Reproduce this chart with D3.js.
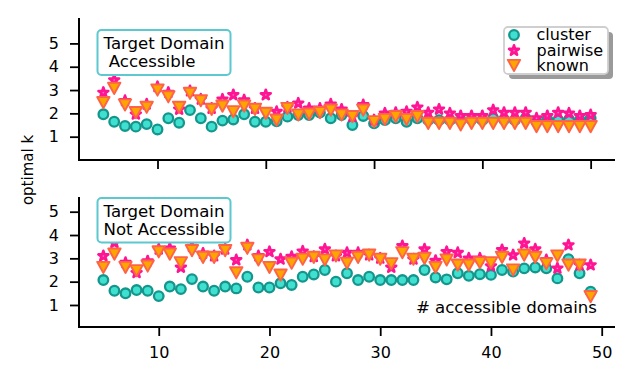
<!DOCTYPE html>
<html>
<head>
<meta charset="utf-8">
<script src="https://cdn.jsdelivr.net/npm/d3@7"></script>
<style>
  body { margin: 0; background: #fff; }
  text { font-family: "DejaVu Sans", sans-serif; }
</style>
</head>
<body>
<svg id="chart" width="634" height="384"></svg>
<script>
// number of accessible domains
var domainsTop = [5,6,7,8,9,10,11,12,13,14,15,16,17,18,19,20,21,22,23,24,25,26,27,28,29,30,31,32,33,34,35,36,37,38,39,40,41,42,43,44,45,46,47,48,49,50]
var domainsBottom = [5,6,7,8,9,10,11,12,13,14,15,16,17,18,19,20,21,22,23,24,25,26,27,28,29,30,31,32,33,34,35,36,37,38,39,40,41,42,43,44,45,46,47,48,49]

// target domain accessible
var clusterTop = [1.96,1.64,1.46,1.43,1.54,1.31,1.79,1.6,2.14,1.79,1.43,1.69,1.74,1.96,1.64,1.64,1.66,1.86,1.93,1.93,2.03,1.79,1.93,1.5,1.89,1.57,1.71,1.79,1.64,1.79,1.71,1.71,1.71,1.71,1.74,1.71,1.79,1.74,1.71,1.79,1.64,1.74,1.71,1.74,1.71,1.79]
var pairwiseTop = [2.89,3.43,2.54,1.96,2.39,3.14,2.89,2.17,2.96,2.6,2.21,2.6,2.79,2.57,2.21,2.79,2.07,2.26,2.43,2.21,2.21,2.39,2.17,1.86,2.36,1.71,2.0,2.03,2.07,2.26,2.03,2.17,2.0,1.89,1.89,1.89,2.14,2.03,2.03,2.03,1.79,1.89,2.03,2.0,1.89,1.93]
var knownTop = [2.46,3.07,2.36,2.03,2.26,3.0,2.71,2.26,2.86,2.54,2.17,2.31,2.07,2.31,2.17,2.0,1.71,2.21,1.93,1.97,2.03,2.14,1.93,1.86,2.14,1.64,1.74,1.86,1.74,1.86,1.57,1.57,1.57,1.5,1.57,1.57,1.57,1.57,1.57,1.57,1.43,1.43,1.43,1.43,1.43,1.43]

// target domain not accessible
var clusterBottom = [2.07,1.61,1.5,1.64,1.61,1.38,1.79,1.68,2.11,1.79,1.61,1.79,1.71,2.21,1.75,1.75,1.93,1.86,2.21,2.31,2.5,2.0,2.36,2.07,2.21,2.07,2.07,2.07,2.07,2.5,2.18,2.1,2.36,2.25,2.32,2.29,2.5,2.43,2.57,2.61,2.57,2.14,2.96,2.36,1.57]
var pairwiseBottom = [3.1,3.67,2.81,2.38,2.88,3.39,3.43,2.61,3.5,3.21,3.1,3.39,2.93,3.57,3.1,3.28,2.96,3.07,3.3,3.07,3.39,3.1,3.24,3.24,3.14,3.0,2.61,3.53,2.96,3.39,2.9,3.28,3.24,3.0,3.0,2.67,3.36,3.14,3.64,3.39,2.93,2.57,3.57,2.71,2.71]
var knownBottom = [2.61,3.18,2.61,2.47,2.67,3.28,3.18,2.81,3.33,3.04,3.04,3.33,2.38,3.43,2.93,2.61,2.28,2.79,2.96,3.04,2.93,3.1,2.79,3.04,3.14,2.96,2.77,3.24,2.96,3.0,2.61,2.93,2.71,2.71,2.81,2.81,3.04,2.5,3.14,3.04,2.77,3.1,2.71,2.71,1.36]

var xTicks = [10, 20, 30, 40, 50]
var yTicks = [1, 2, 3, 4, 5]
var seriesNames = ["cluster", "pairwise", "known"]

var svg = d3.select("#chart")
svg.append("rect").attr("width", 634).attr("height", 384).attr("fill", "#fff")

var triPath = "M-6.2,-5.6L6.2,-5.6L0,5.6Z"
var starPath = d3.symbol().type(d3.symbolStar).size(30)()

function drawMarker(g, kind, px, py) {
    if (kind == "cluster") {
        g.append("circle").attr("cx", px).attr("cy", py).attr("r", 4.8)
            .attr("fill", "#40e0d0").attr("stroke", "#14968c").attr("stroke-width", 2.3)
    } else if (kind == "pairwise") {
        g.append("path").attr("d", starPath).attr("transform", "translate(" + px + "," + py + ")")
            .attr("fill", "#ff7ac6").attr("stroke", "#ff1493").attr("stroke-width", 2.6)
            .attr("stroke-linejoin", "round")
    } else {
        g.append("path").attr("d", triPath).attr("transform", "translate(" + px + "," + py + ")")
            .attr("fill", "#ffa500").attr("stroke", "#ff6347").attr("stroke-width", 1.9)
            .attr("stroke-linejoin", "round")
    }
}

function panel(opts) {
    var x = d3.scaleLinear().domain(opts.xDomain).range([79, 615])
    var y = d3.scaleLinear().domain(opts.yDomain).range(opts.yRange)
    var g = svg.append("g")

    // axes
    var xAxis = d3.axisBottom(x).tickValues(xTicks).tickSizeInner(9).tickSizeOuter(0).tickPadding(11)
    if (!opts.xLabels) xAxis.tickFormat("")
    var gx = g.append("g").attr("transform", "translate(0," + opts.yRange[0] + ")").call(xAxis)
    var gy = g.append("g").attr("transform", "translate(79,0)")
        .call(d3.axisLeft(y).tickValues(yTicks).tickFormat(d3.format("d"))
            .tickSizeInner(9).tickSizeOuter(0).tickPadding(11))
    ;[gx, gy].forEach(function (a) {
        a.select(".domain").attr("stroke", "#000").attr("stroke-width", 2)
        a.selectAll(".tick line").attr("stroke", "#000").attr("stroke-width", 1.8)
        a.selectAll(".tick text").attr("fill", "#000").style("font-size", "16px")
            .style("font-family", "DejaVu Sans")
    })
    gy.select(".domain").attr("d", "M0," + (opts.yRange[0] + 1) + "V" + opts.yRange[1])
    gx.select(".domain").attr("d", "M78,0H615")

    // points: cluster, then pairwise, then known on top
    var marks = g.append("g")
    var sets = [opts.cluster, opts.pairwise, opts.known]
    sets.forEach(function (vals, s) {
        opts.xs.forEach(function (d, i) {
            drawMarker(marks, seriesNames[s], x(d), y(vals[i]))
        })
    })

    // annotation box
    var box = g.append("g")
    box.append("rect").attr("x", 97.5).attr("y", opts.boxTop).attr("width", 133).attr("height", opts.boxH)
        .attr("rx", 4).attr("fill", "#fff").attr("stroke", "#5cc8cf").attr("stroke-width", 2)
    opts.boxLines.forEach(function (t, i) {
        box.append("text").attr("x", 103.5).attr("y", opts.boxTop + 18.5 + i * 18.5)
            .attr("xml:space", "preserve").style("white-space", "pre")
            .style("font-size", "16.6px").text(t)
    })
    return { x: x, y: y }
}

panel({
    xs: domainsTop, cluster: clusterTop, pairwise: pairwiseTop, known: knownTop,
    xDomain: [2.75, 52.25], yDomain: [0, 6.09], yRange: [160, 18],
    xLabels: false, boxTop: 30, boxH: 45, boxLines: ["Target Domain", " Accessible"]
})
panel({
    xs: domainsBottom, cluster: clusterBottom, pairwise: pairwiseBottom, known: knownBottom,
    xDomain: [2.8, 51.2], yDomain: [0.056, 5.63], yRange: [327, 197],
    xLabels: true, boxTop: 198, boxH: 44.5, boxLines: ["Target Domain", "Not Accessible"]
})

// x label sits inside the lower panel
svg.append("text").attr("x", 597).attr("y", 313).attr("text-anchor", "end")
    .style("font-size", "16.6px").text("# accessible domains")

// shared y label
svg.append("text").attr("transform", "translate(33,170) rotate(-90)").attr("text-anchor", "middle")
    .style("font-size", "15px").text("optimal k")

// legend with shadow
var leg = svg.append("g")
leg.append("rect").attr("x", 509).attr("y", 32).attr("width", 104).attr("height", 47).attr("rx", 4)
    .attr("fill", "#9a9a9a")
leg.append("rect").attr("x", 504).attr("y", 27).attr("width", 104).attr("height", 47).attr("rx", 4)
    .attr("fill", "#fff").attr("stroke", "#cfcfcf").attr("stroke-width", 1.8)
var legRows = [35, 50.5, 65.5]
seriesNames.forEach(function (name, i) {
    drawMarker(leg, name, 514, legRows[i])
    leg.append("text").attr("x", 536.5).attr("y", legRows[i] + 5.3)
        .style("font-size", "16px").text(name)
})
</script>
</body>
</html>
